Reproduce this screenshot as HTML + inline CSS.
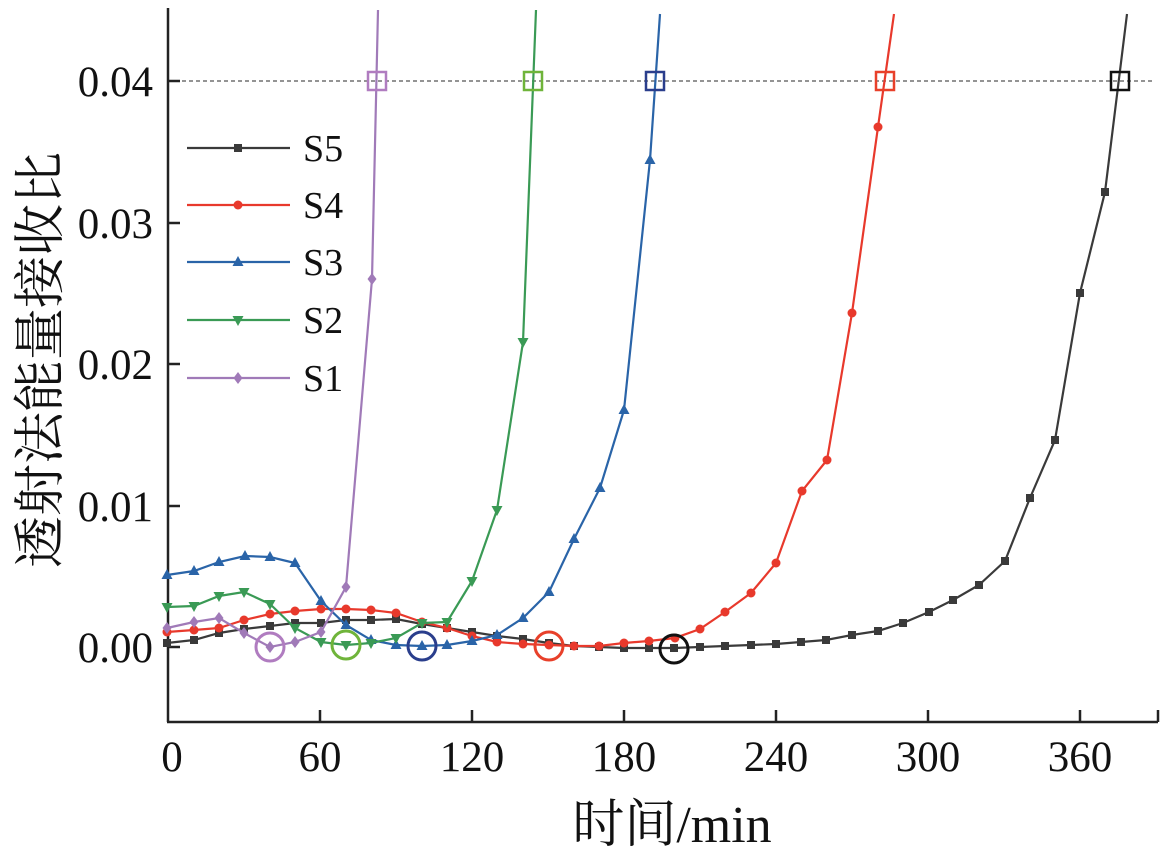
<!DOCTYPE html>
<html><head><meta charset="utf-8"><style>
html,body{margin:0;padding:0;background:#fff;}
svg{display:block;}
text{font-family:"Liberation Serif","Noto Serif CJK SC",serif;fill:#111;}
</style></head><body>
<svg id="s" width="1175" height="856" viewBox="0 0 1175 856" xmlns="http://www.w3.org/2000/svg">
<line x1="168" y1="81" x2="1152" y2="81" stroke="#555" stroke-width="1.2" stroke-dasharray="4,3"/>
<g stroke="#222" stroke-width="2.5" fill="none">
<line x1="168" y1="8" x2="168" y2="722"/>
<line x1="167" y1="722" x2="1158" y2="722"/>
<line x1="1158" y1="722" x2="1158" y2="710"/>
<line x1="320" y1="722" x2="320" y2="710"/><line x1="472" y1="722" x2="472" y2="710"/>
<line x1="624" y1="722" x2="624" y2="710"/><line x1="776" y1="722" x2="776" y2="710"/>
<line x1="928" y1="722" x2="928" y2="710"/><line x1="1080" y1="722" x2="1080" y2="710"/>
<line x1="168" y1="81" x2="180" y2="81"/><line x1="168" y1="223" x2="180" y2="223"/>
<line x1="168" y1="364" x2="180" y2="364"/><line x1="168" y1="506" x2="180" y2="506"/>
<line x1="168" y1="647" x2="180" y2="647"/>
</g>
<g font-size="43" text-anchor="end">
<text x="153" y="96">0.04</text><text x="153" y="238">0.03</text><text x="153" y="379">0.02</text>
<text x="153" y="521">0.01</text><text x="153" y="662">0.00</text>
</g>
<g font-size="43" text-anchor="middle">
<text x="172" y="771">0</text><text x="320" y="771">60</text><text x="472" y="771">120</text>
<text x="624" y="771">180</text><text x="776" y="771">240</text><text x="928" y="771">300</text><text x="1080" y="771">360</text>
</g>
<text x="672" y="842" font-size="52" text-anchor="middle">时间/min</text>
<text transform="translate(58,360) rotate(-90)" font-size="52" text-anchor="middle">透射法能量接收比</text>
<g id="series"></g>
<g font-size="38">
<text x="303" y="161">S5</text><text x="303" y="218">S4</text><text x="303" y="275">S3</text>
<text x="303" y="333">S2</text><text x="303" y="391">S1</text>
</g>
</svg>
<script>
var S=[
{c:"#3a3a3a",m:"sq",p:[[167,643],[194,640],[219,633],[244,629],[270,626],[295,623],[321,623],[346,620],[371,620],[396,619],[422,624],[447,628],[472,632],[497,636],[523,639],[549,643],[574,646],[599,647],[624,648],[649,648],[674,648],[700,647],[725,646],[751,645],[776,644],[801,642],[826,640],[852,635],[878,631],[903,623],[929,612],[953,600],[979,585],[1005,561],[1030,498],[1055,440],[1080,293],[1105,192]],e:[1127,14],ly:148},
{c:"#e8392c",m:"ci",p:[[167,632],[194,630],[219,628],[244,620],[270,614],[295,611],[321,609],[346,609],[371,610],[396,613],[422,622],[447,628],[472,636],[497,642],[523,644],[549,645],[574,646],[599,646],[624,643],[649,641],[675,638],[700,629],[725,612],[751,593],[776,563],[802,491],[827,460],[852,313],[878,127]],e:[894,14],ly:205},
{c:"#2a64a8",m:"tu",p:[[167,575],[194,571],[219,562],[245,556],[270,557],[295,563],[321,601],[346,625],[371,640],[396,645],[422,646],[447,645],[472,641],[497,635],[523,618],[549,592],[574,539],[600,488],[624,410],[650,160]],e:[660,14],ly:262},
{c:"#3a9a55",m:"td",p:[[167,607],[194,606],[219,596],[244,592],[270,604],[295,628],[321,642],[346,645],[371,643],[396,638],[422,623],[447,622],[472,581],[497,510],[523,342]],e:[536,10],ly:320},
{c:"#a07ab8",m:"di",p:[[167,628],[194,622],[219,618],[244,633],[270,647],[295,642],[321,632],[346,587],[372,279]],e:[378,10],ly:378}
];
var g=document.getElementById("series"),ns="http://www.w3.org/2000/svg";
function el(t,a){var e=document.createElementNS(ns,t);for(var k in a)e.setAttribute(k,a[k]);g.appendChild(e);return e;}
function mk(m,x,y,c){
 if(m=="sq")el("rect",{x:x-4,y:y-4,width:8,height:8,fill:c});
 else if(m=="ci")el("circle",{cx:x,cy:y,r:4.5,fill:c});
 else if(m=="tu")el("polygon",{points:(x)+","+(y-6)+" "+(x-5.5)+","+(y+4)+" "+(x+5.5)+","+(y+4),fill:c});
 else if(m=="td")el("polygon",{points:(x)+","+(y+6)+" "+(x-5.5)+","+(y-4)+" "+(x+5.5)+","+(y-4),fill:c});
 else el("polygon",{points:x+","+(y-6)+" "+(x+4.5)+","+y+" "+x+","+(y+6)+" "+(x-4.5)+","+y,fill:c});
}
S.forEach(function(s){
 var pts=s.p.concat([s.e]).map(function(q){return q.join(",")}).join(" ");
 el("polyline",{points:pts,fill:"none",stroke:s.c,"stroke-width":2.2});
 s.p.forEach(function(q){mk(s.m,q[0],q[1],s.c);});
 el("line",{x1:187,y1:s.ly,x2:290,y2:s.ly,stroke:s.c,"stroke-width":2.2});
 mk(s.m,238,s.ly,s.c);
});
var O=[["#b07cc0",270,647,377],["#6fb43a",346,645,533],["#2a3e8c",422,646,655],["#e8402a",549,646,885],["#111",674,649,1120]];
O.forEach(function(o){
 el("circle",{cx:o[1],cy:o[2],r:14,fill:"none",stroke:o[0],"stroke-width":3});
 el("rect",{x:o[3]-9,y:72,width:18,height:18,fill:"none",stroke:o[0],"stroke-width":2.5});
});
</script>
</body></html>
